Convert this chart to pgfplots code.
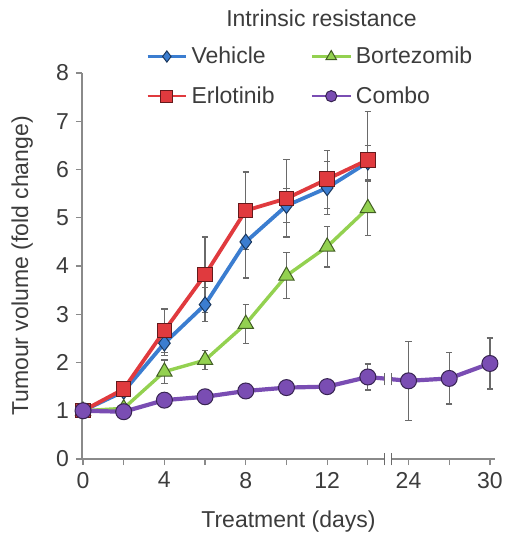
\documentclass[border=0pt]{standalone}
\usepackage{pgfplots}
\pgfplotsset{compat=1.18}
\usepackage{pgfplotstable}
\usepackage{fontspec}
\setmainfont{Liberation Sans}
\definecolor{cblue}{HTML}{3B7DD0}
\definecolor{cred}{HTML}{E03A3E}
\definecolor{cgreen}{HTML}{93D150}
\definecolor{cpurple}{HTML}{7A4DB3}
\definecolor{ctext}{HTML}{3C3C3C}
\definecolor{caxis}{HTML}{8A8A8A}
\definecolor{cerr}{HTML}{6A6A6A}

\pgfplotstableread{
x y e
0 1.00 0.05
2 1.40 0.10
4 2.40 0.25
6 3.20 0.35
8 4.50 0.75
10 5.25 0.35
12 5.62 0.55
14 6.15 0.35
}\vehicle
\pgfplotstableread{
x y e
0 1.00 0.05
2 1.05 0.10
4 1.81 0.24
6 2.05 0.20
8 2.80 0.40
10 3.80 0.48
12 4.40 0.42
14 5.20 0.56
}\bortezomib
\pgfplotstableread{
x y e
0 1.00 0.05
2 1.45 0.10
4 2.66 0.45
6 3.82 0.78
8 5.15 0.80
10 5.40 0.80
12 5.80 0.60
14 6.20 1.00
}\erlotinib
% pos = plotting position (days 24, 27, 30 after the axis break at 16, 18, 20)
\pgfplotstableread{
pos day y e
0 0 1.00 0.08
2 2 0.98 0.08
4 4 1.22 0.10
6 6 1.29 0.10
8 8 1.41 0.10
10 10 1.48 0.10
12 12 1.50 0.10
14 14 1.70 0.27
16 24 1.62 0.82
18 27 1.67 0.53
20 30 1.98 0.53
}\combo

\begin{document}
\begin{tikzpicture}
\useasboundingbox (-41pt,-39.5pt) rectangle (211.5pt,229.5pt);
\begin{axis}[
  scale only axis,
  width=206.5pt, height=193pt,
  font=\fontsize{11.5}{13}\selectfont,
  xmin=-0.05, xmax=20.25,
  ymin=0, ymax=8,
  axis x line=bottom, axis y line=left,
  axis line style={-, caxis, line width=0.6pt},
  tick style={caxis, line width=0.6pt},
  tick align=outside,
  major tick length=3pt,
  xtick={0,2,4,6,8,10,12,14,16,18,20},
  xticklabels={0,,4,,8,,12,,24,,30},
  ytick={0,1,...,8},
  /pgf/number format/assume math mode=true,
  ticklabel style={text=ctext},
  xlabel={Treatment (days)},
  ylabel={Tumour volume (fold change)},
  label style={text=ctext},
  xlabel style={at={(axis description cs:0.5,-0.163)}, anchor=center},
  ylabel style={at={(axis description cs:-0.145,0.5)}, anchor=center},
  clip=false,
  legend columns=2,
  legend style={at={(0.14,1.09)}, anchor=north west, draw=none, fill=none,
    text=ctext, font=\fontsize{11.5}{13}\selectfont,
    /tikz/every even column/.append style={column sep=16pt},
    row sep=6pt},
  legend cell align=left,
  error bars/y dir=both,
  error bars/y explicit,
  error bars/error bar style={cerr, line width=0.6pt},
  error bars/error mark options={rotate=90, mark size=1.6pt, cerr, line width=0.6pt},
]
\addplot[cblue, line width=1.9pt, mark=diamond*, mark size=3.9pt,
  mark options={fill=cblue, draw=cblue!45!black, line width=0.5pt},
  legend image code/.code={\draw[mark repeat=2,mark phase=2,mark size=2.8pt,line width=1.3pt] plot coordinates {(0cm,0cm) (0.34cm,0cm) (0.68cm,0cm)};}]
  table[x=x,y=y,y error=e] {\vehicle};
\addlegendentry{Vehicle}
\addplot[cgreen, line width=1.7pt, mark=triangle*, mark size=4.4pt,
  mark options={fill=cgreen, draw=cgreen!45!black, line width=0.5pt},
  legend image code/.code={\draw[mark repeat=2,mark phase=2,mark size=3pt,line width=1.3pt] plot coordinates {(0cm,0cm) (0.34cm,0cm) (0.68cm,0cm)};}]
  table[x=x,y=y,y error=e] {\bortezomib};
\addlegendentry{Bortezomib}
\addplot[cred, line width=1.9pt, mark=square*, mark size=3.6pt,
  mark options={fill=cred, draw=cred!45!black, line width=0.5pt},
  legend image code/.code={\draw[mark repeat=2,mark phase=2,mark size=3pt,line width=1.3pt] plot coordinates {(0cm,0cm) (0.34cm,0cm) (0.68cm,0cm)};}]
  table[x=x,y=y,y error=e] {\erlotinib};
\addlegendentry{Erlotinib}
\addplot[cpurple, line width=2.1pt, mark=*, mark size=4pt,
  mark options={fill=cpurple, draw=cpurple!45!black, line width=0.5pt},
  legend image code/.code={\draw[mark repeat=2,mark phase=2,mark size=2.8pt,line width=1.3pt] plot coordinates {(0cm,0cm) (0.34cm,0cm) (0.68cm,0cm)};}]
  table[x=pos,y=y,y error=e] {\combo};
\addlegendentry{Combo}
\coordinate (axbrk) at (axis cs:15,0);
\coordinate (linebrk) at (axis cs:15,1.66);
\coordinate (ttl) at (axis description cs:0.58,1.142);
\end{axis}
% axis break
\fill[white] ([xshift=-1.7pt,yshift=-2pt]axbrk) rectangle ([xshift=1.7pt,yshift=2pt]axbrk);
\draw[cerr, line width=0.7pt] ([xshift=-1.7pt,yshift=-3.2pt]axbrk) -- ([xshift=-1.7pt,yshift=3.2pt]axbrk);
\draw[cerr, line width=0.7pt] ([xshift=1.7pt,yshift=-3.2pt]axbrk) -- ([xshift=1.7pt,yshift=3.2pt]axbrk);
% line break
\fill[white] ([xshift=-1.7pt,yshift=-2.6pt]linebrk) rectangle ([xshift=1.7pt,yshift=2.6pt]linebrk);
\draw[cerr, line width=0.7pt] ([xshift=-1.7pt,yshift=-3.2pt]linebrk) -- ([xshift=-1.7pt,yshift=3.2pt]linebrk);
\draw[cerr, line width=0.7pt] ([xshift=1.7pt,yshift=-3.2pt]linebrk) -- ([xshift=1.7pt,yshift=3.2pt]linebrk);
\node[text=ctext, font=\fontsize{11.5}{13}\selectfont] at (ttl) {Intrinsic resistance};
\end{tikzpicture}
\end{document}
